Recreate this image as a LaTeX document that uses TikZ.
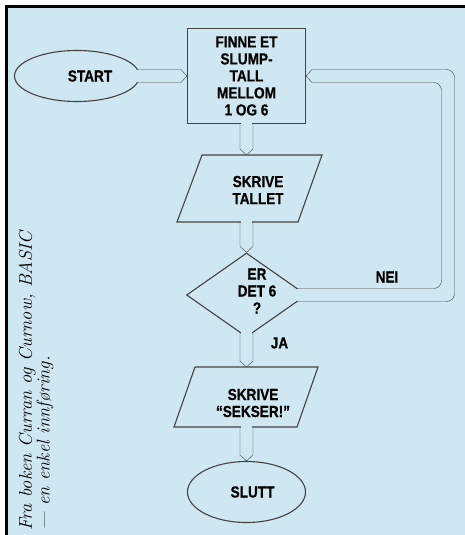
\documentclass[tikz,border=0pt]{standalone}
\usepackage{fontspec}
\usetikzlibrary{shapes.geometric,calc}
\newfontfamily\flowfont[FakeStretch=0.85,FakeBold=0.6]{Liberation Sans Bold}
\definecolor{paper}{RGB}{206,231,241}
\definecolor{ink}{RGB}{68,68,68}
\pgfdeclarelayer{frame}
\pgfdeclarelayer{pipes}
\pgfdeclarelayer{front}
\pgfsetlayers{frame,pipes,main,front}

\begin{document}
\begin{tikzpicture}[x=1pt,y=-1pt,line width=1.1pt,
  every node/.style={font=\flowfont\fontsize{16}{17}\selectfont,inner sep=0pt},
  term/.style={ellipse,draw=ink,fill=paper},
  pipe/.style={draw=ink,line cap=round},
  gap/.style={fill=paper}]
\useasboundingbox (0,0) rectangle (465,535);

% shapes
\node[term,minimum width=125pt,minimum height=51pt] (start) at (77,76) {};
\node[draw=ink,fill=paper,minimum width=118pt,minimum height=95pt] (finne) at (246.5,76) {};
\draw[ink,fill=paper] (202,155) -- (322,155) -- (298,222) -- (177,222) -- cycle;
\coordinate (tall-n) at (246.5,155);
\coordinate (tall-s) at (246.5,222);
\node[diamond,draw=ink,fill=paper,minimum width=120pt,minimum height=84pt] (er) at (246.5,295) {};
\draw[ink,fill=paper] (195,367) -- (318,367) -- (297,427) -- (174,427) -- cycle;
\coordinate (seks-n) at (246.5,367);
\coordinate (seks-s) at (246.5,427);
\node[term,minimum width=118pt,minimum height=61pt] (slutt) at (246.5,492) {};
\coordinate (back) at (448,0);

% texts
\node (start-t) at (90,76) {START};
\node[align=center] (finne-t) at (246.5,76) {FINNE ET\\SLUMP-\\TALL\\MELLOM\\1 OG 6};
\node[align=center] (tall-t) at (258,190) {SKRIVE\\TALLET};
\node[align=center] (er-t) at (257,291) {ER\\DET 6\\?};
\node (nei) at (387,277) {NEI};
\node (ja) at (279.5,343) {JA};
\node[align=center] (seks-t) at (253,403) {SKRIVE\\“SEKSER!”};
\node (slutt-t) at (252.5,492) {SLUTT};
\node[rotate=90,anchor=south west,align=left,font=\normalfont\itshape\fontsize{18.5}{14}\selectfont] (kilde) at (54,531)
  {Fra boken Curran og Curnow, BASIC\\— en enkel innføring.};

% frame
\begin{pgfonlayer}{frame}
\fill[white] (0,0) rectangle (465,535);
\fill[paper] (6.5,6.5) rectangle (465,535);
\draw[black,line width=2.5pt] (6.5,535) -- (6.5,6.5) -- (465,6.5);
\end{pgfonlayer}

% pipes
\begin{pgfonlayer}{pipes}
\draw[pipe] ($(start.east)+(-10,-6.5)$) -- ($(finne.west)+(-6,-6.5)$) -- (finne.west)
  -- ($(finne.west)+(-6,6.5)$) -- ($(start.east)+(-10,6.5)$);
\draw[pipe] ($(finne.south)+(-6.5,-10)$) -- ($(tall-n)+(-6.5,-6)$) -- (tall-n)
  -- ($(tall-n)+(6.5,-6)$) -- ($(finne.south)+(6.5,-10)$);
\draw[pipe] ($(tall-s)+(-6.5,-10)$) -- ($(er.north)+(-6.5,-6)$) -- (er.north)
  -- ($(er.north)+(6.5,-6)$) -- ($(tall-s)+(6.5,-10)$);
\draw[pipe] ($(er.south)+(-6.5,-15)$) -- ($(seks-n)+(-6.5,-6)$) -- (seks-n)
  -- ($(seks-n)+(6.5,-6)$) -- ($(er.south)+(6.5,-15)$);
\draw[pipe] ($(seks-s)+(-6.5,-10)$) -- ($(slutt.north)+(-6.5,-6)$) -- (slutt.north)
  -- ($(slutt.north)+(6.5,-6)$) -- ($(seks-s)+(6.5,-10)$);
% NEI back to the top box
\draw[pipe,rounded corners=8pt] ($(er.east)+(-15,-6.5)$) -| ($(back |- finne.east)+(-6.5,6.5)$)
  -- ($(finne.east)+(6,6.5)$);
\draw[pipe,rounded corners=8pt] ($(er.east)+(-15,6.5)$) -| ($(back |- finne.east)+(6.5,-6.5)$)
  -- ($(finne.east)+(6,-6.5)$);
\draw[pipe] ($(finne.east)+(6,6.5)$) -- (finne.east) -- ($(finne.east)+(6,-6.5)$);
\end{pgfonlayer}

% openings where the pipes leave
\begin{pgfonlayer}{front}
\fill[gap] ($(start.east)+(-4,-5.7)$) rectangle ($(start.east)+(2,5.7)$);
\fill[gap] ($(finne.south)+(-5.7,-3)$) rectangle ($(finne.south)+(5.7,2)$);
\fill[gap] ($(tall-s)+(-5.7,-3)$) rectangle ($(tall-s)+(5.7,2)$);
\fill[gap] ($(er.south)+(-5.7,-7)$) rectangle ($(er.south)+(5.7,2)$);
\fill[gap] ($(er.east)+(-10,-5.7)$) rectangle ($(er.east)+(2,5.7)$);
\fill[gap] ($(seks-s)+(-5.7,-3)$) rectangle ($(seks-s)+(5.7,2)$);
\end{pgfonlayer}
\end{tikzpicture}
\end{document}
